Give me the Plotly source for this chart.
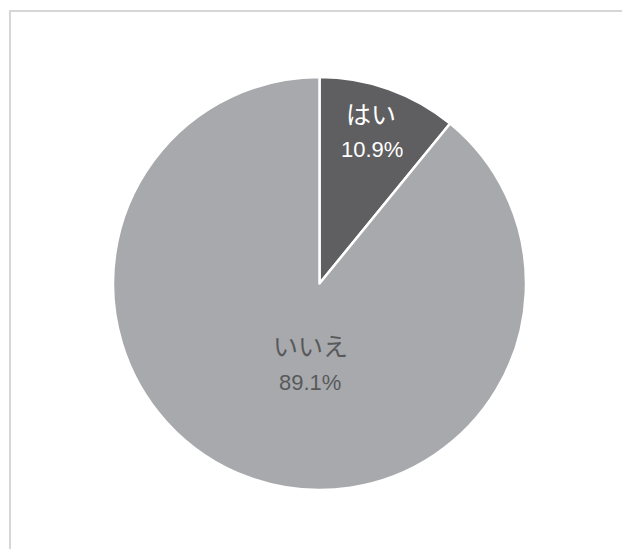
import plotly.graph_objects as go

labels = ["はい", "いいえ"]
values = [10.9, 89.1]
colors = ["#5f5f61", "#a8a9ad"]
text_colors = ["#ffffff", "#58595b"]

W, H = 622, 541
ml, mr, mt, mb = 105, 104, 69, 59
pw = W - ml - mr
ph = H - mt - mb

fig = go.Figure(go.Pie(
    labels=labels,
    values=values,
    sort=False,
    direction="clockwise",
    rotation=0,
    marker=dict(colors=colors, line=dict(color="#ffffff", width=2.5)),
    textinfo="none",
    hoverinfo="label+percent",
    showlegend=False,
))

def px_x(p):
    return (p - ml) / pw

def px_y(p):
    return (H - mb - p) / ph

# label positions (pixel centres) for each slice: name line and percent line
name_pos = [(363, 105), (302, 337)]
pct_pos = [(364, 141), (302, 374)]

for i, lab in enumerate(labels):
    fig.add_annotation(
        x=px_x(name_pos[i][0]), y=px_y(name_pos[i][1]), xref="paper", yref="paper",
        text=lab, showarrow=False, xanchor="center", yanchor="middle",
        font=dict(family="Noto Sans CJK JP", size=25, color=text_colors[i]),
    )
    fig.add_annotation(
        x=px_x(pct_pos[i][0]), y=px_y(pct_pos[i][1]), xref="paper", yref="paper",
        text=f"{values[i]:.1f}%", showarrow=False, xanchor="center", yanchor="middle",
        font=dict(family="Liberation Sans", size=22, color=text_colors[i]),
    )

fig.add_shape(type="rect", xref="paper", yref="paper",
              x0=px_x(2), x1=px_x(621), y0=px_y(570), y1=px_y(3),
              line=dict(color="#d6d6d6", width=2), fillcolor="rgba(0,0,0,0)", layer="below")

fig.update_layout(
    width=W, height=H,
    margin=dict(l=ml, r=mr, t=mt, b=mb),
    paper_bgcolor="#ffffff",
    plot_bgcolor="#ffffff",
)

fig.write_html("out.html")
